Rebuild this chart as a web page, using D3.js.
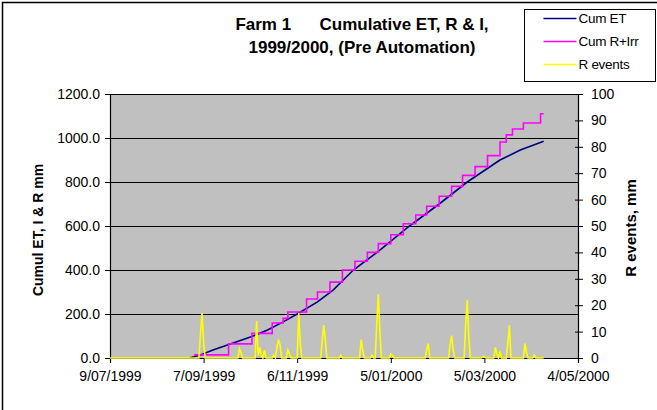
<!DOCTYPE html>
<html>
<head>
<meta charset="utf-8">
<script src="https://cdn.jsdelivr.net/npm/d3@7"></script>
<style>
  body { margin: 0; background: #fff; }
  text { font-family: "Liberation Sans", Arial, sans-serif; }
</style>
</head>
<body>
<div id="chart"></div>
<script>
// x axis tick dates (Excel date axis, 60 day major unit)
const xTickDates = ["1999-07-09", "1999-09-07", "1999-11-06", "2000-01-05", "2000-03-05", "2000-05-04"];
const leftTicks = [0, 200, 400, 600, 800, 1000, 1200];
const rightTicks = [0, 10, 20, 30, 40, 50, 60, 70, 80, 90, 100];

// Cum ET (mm)
const etDates = ["1999-08-29", "1999-09-05", "1999-09-13", "1999-09-26", "1999-10-07", "1999-10-18",
    "1999-10-28", "1999-11-06", "1999-11-19", "1999-11-29", "1999-12-12", "1999-12-29",
    "2000-01-17", "2000-02-05", "2000-02-23", "2000-03-15", "2000-03-28", "2000-04-12"];
const etValues = [0, 14, 36, 68, 95, 127, 164, 200, 255, 309, 400, 490, 600, 700, 800, 900, 945, 985];

// Cum R+Irr (mm), stepped
const riDates = ["1999-09-01", "1999-09-23", "1999-10-08", "1999-10-21", "1999-10-28", "1999-10-31",
    "1999-11-12", "1999-11-19", "1999-11-27", "1999-12-05", "1999-12-13", "1999-12-21",
    "1999-12-28", "2000-01-05", "2000-01-13", "2000-01-21", "2000-01-28", "2000-02-05",
    "2000-02-13", "2000-02-20", "2000-02-28", "2000-03-07", "2000-03-15", "2000-03-19",
    "2000-03-23", "2000-03-30", "2000-04-10", "2000-04-12"];
const riValues = [14, 64, 112, 159, 180, 209, 268, 300, 345, 400, 440, 480, 520, 560, 610, 650,
    690, 735, 780, 830, 870, 920, 982, 1014, 1041, 1068, 1110, 1110];

// R events (mm per day, right axis)
const rainDates = ["1999-07-09",
    "1999-09-04", "1999-09-05", "1999-09-06", "1999-09-07", "1999-09-08",
    "1999-09-29", "1999-09-30", "1999-10-01", "1999-10-02",
    "1999-10-10", "1999-10-11", "1999-10-12", "1999-10-13", "1999-10-14", "1999-10-15", "1999-10-16", "1999-10-17",
    "1999-10-21", "1999-10-22", "1999-10-23", "1999-10-24", "1999-10-25", "1999-10-26", "1999-10-27",
    "1999-10-30", "1999-10-31", "1999-11-01", "1999-11-02",
    "1999-11-06", "1999-11-07", "1999-11-08", "1999-11-09",
    "1999-11-21", "1999-11-22", "1999-11-23", "1999-11-24", "1999-11-25",
    "1999-12-03", "1999-12-04", "1999-12-05",
    "1999-12-16", "1999-12-17", "1999-12-18", "1999-12-19",
    "1999-12-23", "1999-12-24", "1999-12-25",
    "1999-12-26", "1999-12-27", "1999-12-28", "1999-12-29", "1999-12-30",
    "2000-01-04", "2000-01-05", "2000-01-06", "2000-01-07",
    "2000-01-27", "2000-01-28", "2000-01-29", "2000-01-30",
    "2000-02-11", "2000-02-12", "2000-02-13", "2000-02-14", "2000-02-15",
    "2000-02-21", "2000-02-22", "2000-02-23", "2000-02-24", "2000-02-25",
    "2000-03-03", "2000-03-04", "2000-03-05", "2000-03-06",
    "2000-03-11", "2000-03-12", "2000-03-13", "2000-03-14", "2000-03-15", "2000-03-16",
    "2000-03-19", "2000-03-20", "2000-03-21", "2000-03-22",
    "2000-03-30", "2000-03-31", "2000-04-01", "2000-04-02",
    "2000-04-05", "2000-04-06", "2000-04-07",
    "2000-04-12"];
const rainValues = [0,
    0, 9, 17, 6, 0,
    0, 3.5, 2, 0,
    0, 14, 1, 4, 1, 0, 3, 0,
    0, 1, 0, 4, 7, 5, 0,
    0, 3, 1.5, 0,
    0, 17, 5, 0,
    0, 6, 12.5, 7, 0,
    0, 1, 0,
    0, 7, 3, 0,
    0, 1, 0,
    0, 13, 24, 10, 0,
    0, 1.5, 1, 0,
    0, 3, 5.5, 0,
    0, 5, 8.5, 3, 0,
    0, 13, 22, 8, 0,
    0, 0.5, 0.5, 0,
    0, 4, 1.5, 0, 2.5, 0,
    0, 5.5, 12.5, 0,
    0, 5.5, 2, 0,
    0, 1, 0,
    0];

const width = 657;
const height = 410;
const plot = { left: 110, right: 578, top: 94, bottom: 358 };

const parse = d3.timeParse("%Y-%m-%d");
const fmt = d3.timeFormat("%-d/%m/%Y");

const svg = d3.select('#chart')
    .append('svg')
    .attr('width', width)
    .attr('height', height);

// chart border (right and bottom run off the picture)
svg.append('rect')
    .attr('x', 2.5).attr('y', 2.5)
    .attr('width', 720).attr('height', 480)
    .attr('fill', 'none')
    .attr('stroke', '#000')
    .attr('stroke-width', 1.5);

const x = d3.scaleTime()
    .domain([parse(xTickDates[0]), parse(xTickDates[xTickDates.length - 1])])
    .range([plot.left, plot.right]);
const yLeft = d3.scaleLinear().domain([0, 1200]).range([plot.bottom, plot.top]);
const yRight = d3.scaleLinear().domain([0, 100]).range([plot.bottom, plot.top]);

// plot area
svg.append('rect')
    .attr('x', plot.left).attr('y', plot.top)
    .attr('width', plot.right - plot.left)
    .attr('height', plot.bottom - plot.top)
    .attr('fill', '#c0c0c0');

// gridlines
svg.append('g')
    .selectAll('line')
    .data(leftTicks.filter(d => d > 0))
    .join('line')
    .attr('x1', plot.left).attr('x2', plot.right)
    .attr('y1', d => Math.round(yLeft(d)) + 0.5)
    .attr('y2', d => Math.round(yLeft(d)) + 0.5)
    .attr('stroke', '#000')
    .attr('stroke-width', 1);

// axes
const xAxis = svg.append('g')
    .attr('transform', `translate(0,${plot.bottom})`)
    .call(d3.axisBottom(x)
        .tickValues(xTickDates.map(parse))
        .tickFormat(fmt)
        .tickSize(5)
        .tickPadding(8));

const leftAxis = svg.append('g')
    .attr('transform', `translate(${plot.left},0)`)
    .call(d3.axisLeft(yLeft)
        .tickValues(leftTicks)
        .tickFormat(d3.format('.1f'))
        .tickSize(5)
        .tickPadding(5));

const rightAxis = svg.append('g')
    .attr('transform', `translate(${plot.right},0)`)
    .call(d3.axisRight(yRight)
        .tickValues(rightTicks)
        .tickSize(5)
        .tickPadding(8));
// right ticks cross the axis line
rightAxis.selectAll('.tick line').attr('x1', -3);

[xAxis, leftAxis, rightAxis].forEach(a => {
    a.select('.domain').attr('stroke', '#000').attr('stroke-width', 1.2);
    a.selectAll('.tick line').attr('stroke', '#000');
    a.selectAll('text')
        .attr('fill', '#000')
        .style('font-family', '"Liberation Sans", Arial, sans-serif')
        .style('font-size', '14px');
});

// series
const etLine = d3.line()
    .x((d, i) => x(parse(etDates[i])))
    .y(d => yLeft(d));

const riLine = d3.line()
    .curve(d3.curveStepAfter)
    .x((d, i) => x(parse(riDates[i])))
    .y(d => yLeft(d));

const rainLine = d3.line()
    .x((d, i) => x(parse(rainDates[i])))
    .y(d => yRight(d));

svg.append('path')
    .attr('d', etLine(etValues))
    .attr('fill', 'none')
    .attr('stroke', '#000080')
    .attr('stroke-width', 1.6);

svg.append('path')
    .attr('d', riLine(riValues))
    .attr('fill', 'none')
    .attr('stroke', '#ff00ff')
    .attr('stroke-width', 1.6);

svg.append('path')
    .attr('d', rainLine(rainValues))
    .attr('fill', 'none')
    .attr('stroke', '#ffff00')
    .attr('stroke-width', 1.6);

// title
const title = svg.append('text')
    .attr('text-anchor', 'middle')
    .style('font-size', '17px')
    .style('font-weight', 'bold')
    .style('white-space', 'pre');
title.append('tspan').attr('x', 362).attr('y', 30)
    .text('Farm 1      Cumulative ET, R & I,');
title.append('tspan').attr('x', 362).attr('y', 53).text('1999/2000, (Pre Automation)');

// axis titles
svg.append('text')
    .attr('transform', `translate(43,230) rotate(-90)`)
    .attr('text-anchor', 'middle')
    .style('font-size', '14px')
    .style('font-weight', 'bold')
    .text('Cumul ET, I & R mm');

svg.append('text')
    .attr('transform', `translate(636,228) rotate(-90)`)
    .attr('text-anchor', 'middle')
    .style('font-size', '15px')
    .style('font-weight', 'bold')
    .text('R events, mm');

// legend
const legendItems = [
    { name: 'Cum ET', colour: '#000080' },
    { name: 'Cum R+Irr', colour: '#ff00ff' },
    { name: 'R events', colour: '#ffff00' }
];
const legend = svg.append('g').attr('transform', 'translate(524.5,9.5)');
legend.append('rect')
    .attr('width', 131).attr('height', 72)
    .attr('fill', '#fff')
    .attr('stroke', '#000')
    .attr('stroke-width', 1);
const li = legend.selectAll('g.item')
    .data(legendItems)
    .join('g')
    .attr('class', 'item')
    .attr('transform', (d, i) => `translate(0,${9 + i * 23})`);
li.append('line')
    .attr('x1', 19).attr('x2', 52)
    .attr('stroke', d => d.colour)
    .attr('stroke-width', 1.6);
li.append('text')
    .attr('x', 54).attr('dy', '0.35em')
    .style('font-family', '"Liberation Sans Narrow", "Liberation Sans", Arial, sans-serif')
    .style('font-size', '13.5px')
    .style('letter-spacing', '-0.3px')
    .text(d => d.name);
</script>
</body>
</html>
